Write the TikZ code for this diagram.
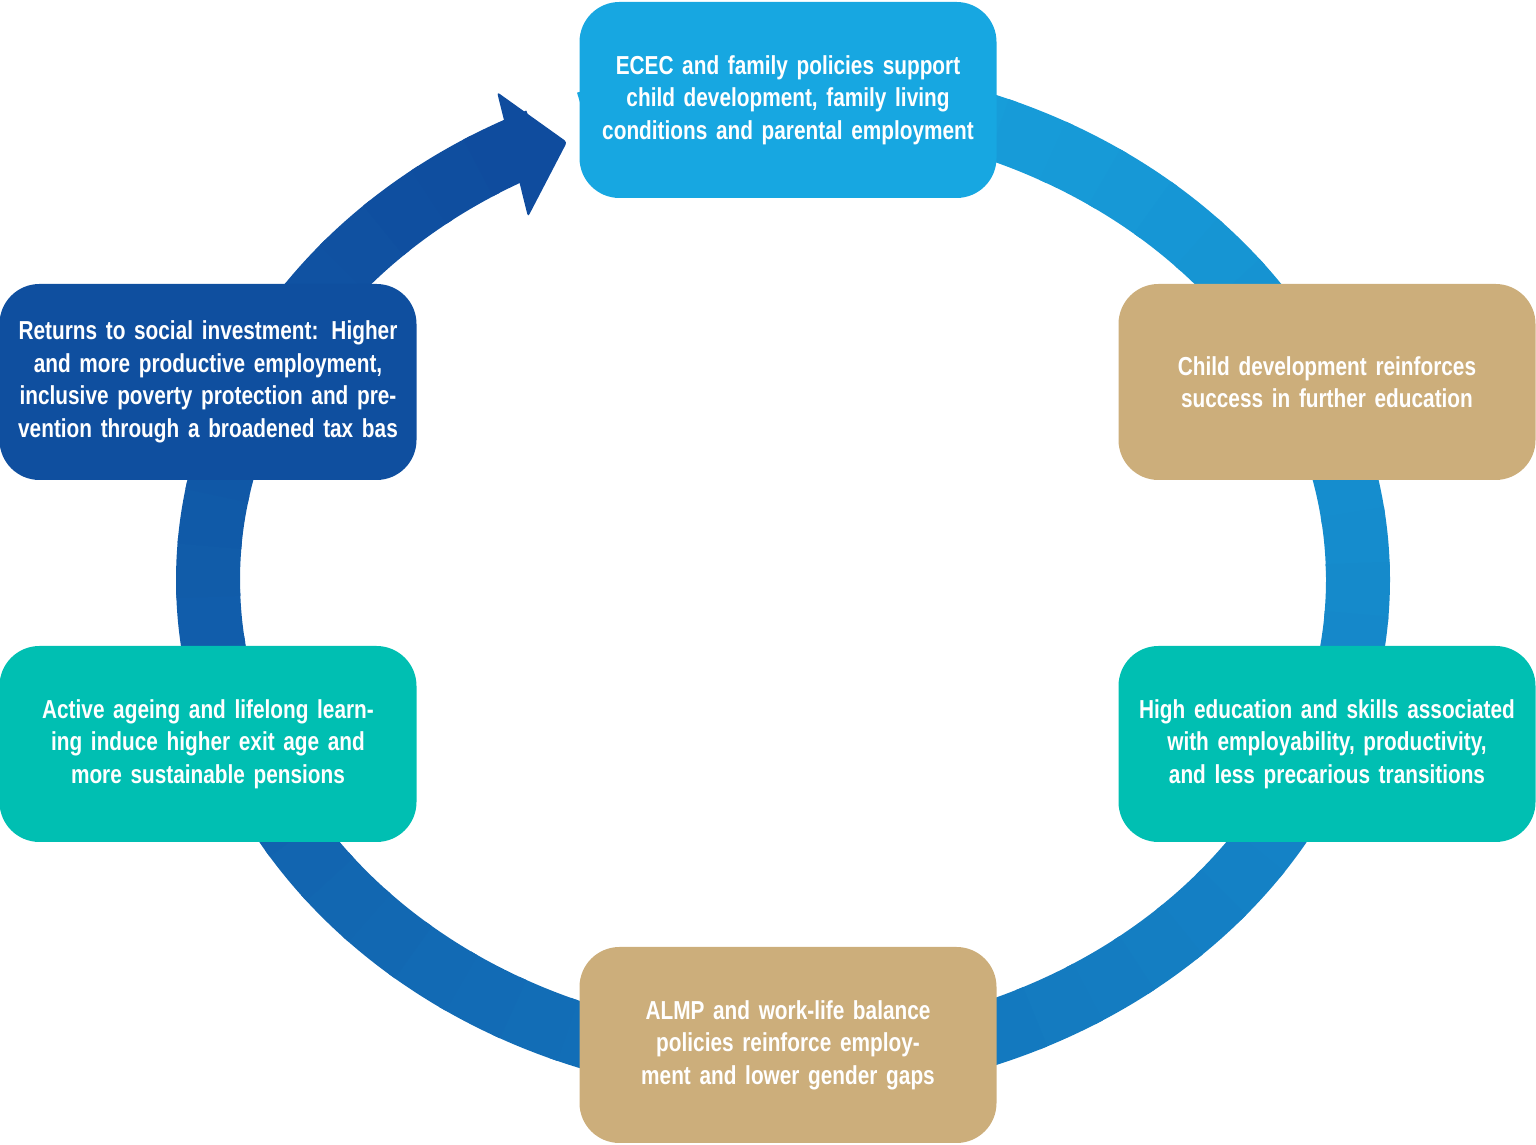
\documentclass[tikz,border=0pt]{standalone}
\usepackage{fontspec}
\setmainfont{Liberation Sans}[FakeStretch=0.8]
\definecolor{lightb}{HTML}{18A6E0}
\definecolor{darkb}{HTML}{0F4C9E}
\definecolor{topbox}{HTML}{17A7E1}
\definecolor{tan}{HTML}{CCAE7B}
\definecolor{teal}{HTML}{00BFB2}
\definecolor{navy}{HTML}{0F4F9F}
\begin{document}
\begin{tikzpicture}[x=1pt,y=1pt,
  box/.style={rounded corners=40pt,minimum width=417pt,minimum height=196pt,
    text width=390pt,align=center,text=white,font=\bfseries\fontsize{26}{32.5}\selectfont,inner sep=0pt}]
\useasboundingbox (0,0) rectangle (1536,1145);
% ring
\foreach \i in {0,...,58}{
  \pgfmathsetmacro\a{110-6*\i}
  \pgfmathsetmacro\p{100-\i*100/58}
  \draw[line width=64pt,lightb!\p!darkb] (783,565) ++(\a:575pt and 486pt)
     arc[start angle=\a,end angle=\a-6.8,x radius=575pt,y radius=486pt];
}
\fill[darkb,rounded corners=3pt] (497,1053) -- (567,1003) -- (528,928) -- cycle;
\node[box,fill=topbox] (top) at (788,1045) {ECEC and family policies support child development, family living conditions and parental employment};
\node[box,fill=tan] (ru) at (1327,763) {Child development reinforces success in further education};
\node[box,fill=teal] (rl) at (1327,401) {High education and skills associated with employability, productivity, and less precarious transitions};
\node[box,fill=tan] (bot) at (788,100) {ALMP and work-life balance policies reinforce employment and lower gender gaps};
\node[box,fill=teal] (ll) at (208,401) {Active ageing and lifelong learning induce higher exit age and more sustainable pensions};
\node[box,fill=navy] (lu) at (208,763) {Returns to social investment: Higher and more productive employment, inclusive poverty protection and prevention through a broadened tax bas};
\end{tikzpicture}
\end{document}
